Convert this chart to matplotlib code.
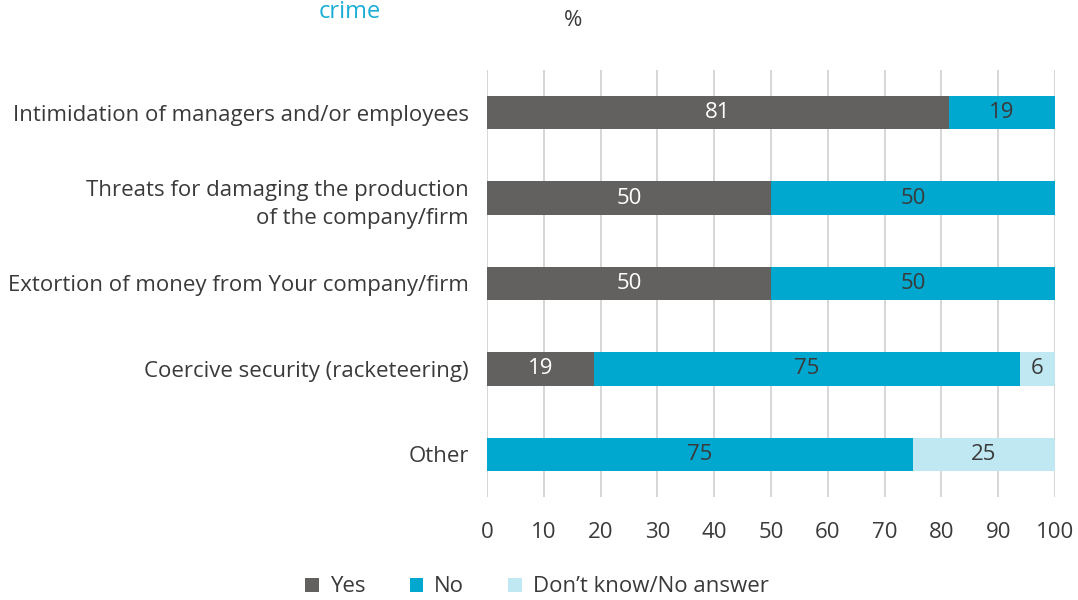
import matplotlib
matplotlib.use("Agg")
import matplotlib.pyplot as plt
import numpy as np

categories = [
    "Intimidation of managers and/or employees",
    "Threats for damaging the production\nof the company/firm",
    "Extortion of money from Your company/firm",
    "Coercive security (racketeering)",
    "Other",
]
yes = [81.25, 50, 50, 18.75, 0]
no = [18.75, 50, 50, 75, 75]
dk = [0, 0, 0, 6.25, 25]
series_names = ["Yes", "No", "Don\u2019t know/No answer"]
colors = ["#636160", "#00a8cf", "#c0e8f2"]
label_colors = ["white", "#3a3a3a", "#3a3a3a"]
xticks = list(range(0, 101, 10))

plt.rcParams['font.family'] = ['Open Sans', 'DejaVu Sans']
txt = "#3a3a3a"

fig = plt.figure(figsize=(10.78, 6.0), dpi=100)
ax = fig.add_axes([487/1078, 1-497/600, (1055-487)/1078, (497-70)/600])

y = np.arange(len(categories))
left = np.zeros(len(categories))
for vals, name, c, lc in zip([yes, no, dk], series_names, colors, label_colors):
    vals = np.array(vals, dtype=float)
    ax.barh(y, vals, left=left, height=0.39, color=c, label=name, zorder=3)
    for yi, v, l in zip(y, vals, left):
        if v > 0:
            ax.text(l + v/2, yi, f"{v:.0f}", ha="center", va="center",
                    color=lc, fontsize=16, zorder=4)
    left += vals

ax.set_xlim(0, 100)
ax.set_ylim(len(categories) - 0.5, -0.5)
ax.set_yticks(y)
ax.set_yticklabels(categories, fontsize=16, color=txt, ha="right", multialignment="right",
                   linespacing=1.45)
ax.set_xticks(xticks)
ax.set_xticklabels([str(t) for t in xticks], fontsize=16, color=txt)
ax.tick_params(axis="y", length=0, pad=13)
ax.tick_params(axis="x", length=0, pad=18)
ax.grid(axis="x", color="#d0d0d0", linewidth=1.2, zorder=0)
for s in ax.spines.values():
    s.set_visible(False)

fig.text(573/1078, 1-20/600, "%", ha="center", va="center", fontsize=16, color=txt)
fig.text(350/1078, 1.0, "crime", ha="center", va="top", fontsize=17, color="#1aaed6")

leg = fig.legend(loc="center", bbox_to_anchor=(537/1078, 1-587/600), ncol=3,
                 frameon=False, fontsize=16, handlelength=0.6, handleheight=0.6,
                 columnspacing=2.0, handletextpad=0.5)
for t in leg.get_texts():
    t.set_color(txt)

fig.savefig("out.png", dpi=100)
